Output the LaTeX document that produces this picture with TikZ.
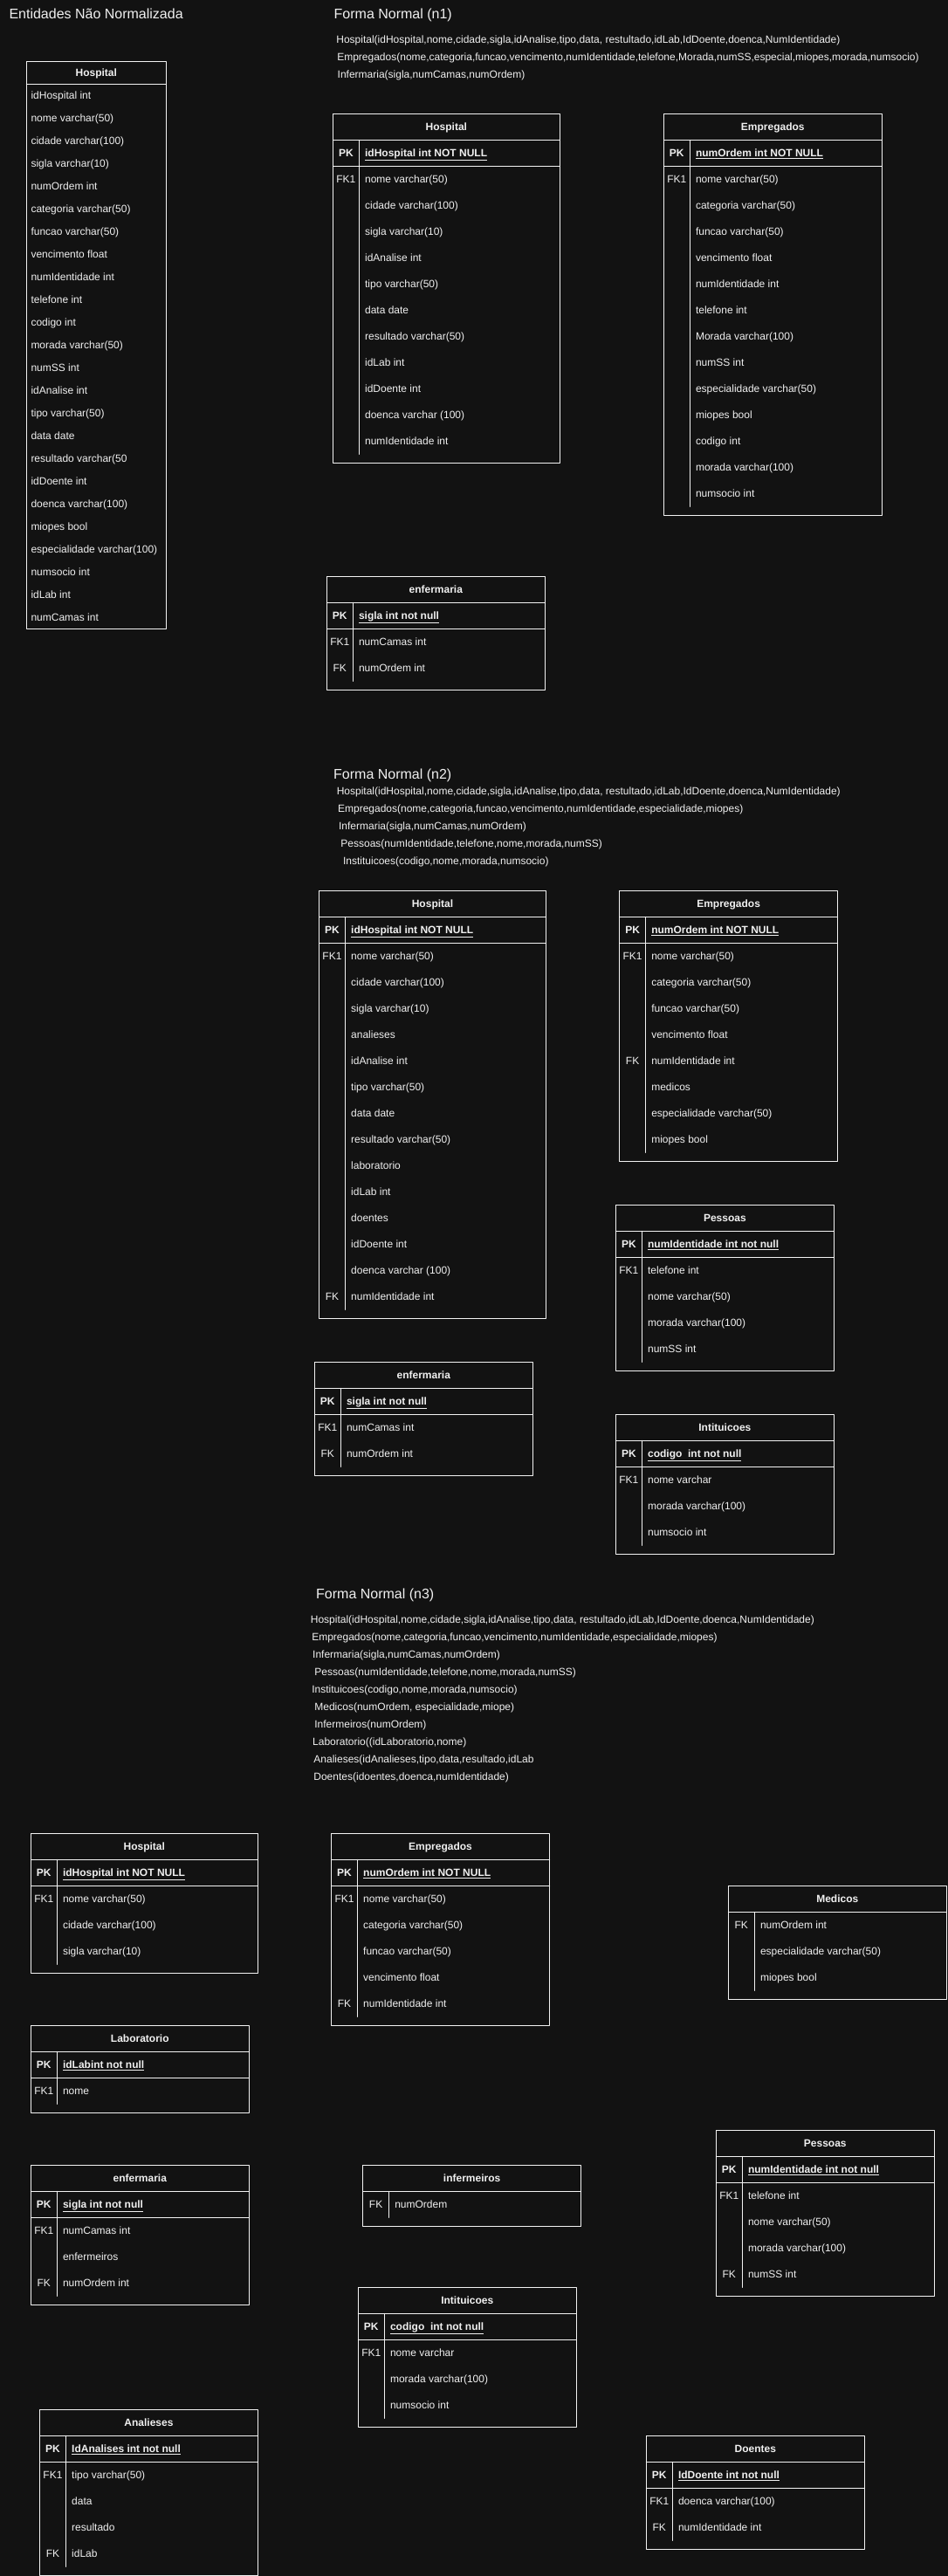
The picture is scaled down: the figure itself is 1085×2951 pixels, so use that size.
\documentclass[tikz,border=0pt]{standalone}
\usepackage{fontspec}
\setmainfont{Liberation Sans}
\definecolor{fundo}{HTML}{121212}
\definecolor{traco}{HTML}{F2F2F2}
\definecolor{letra}{HTML}{F0F0F0}

\begin{document}
\begin{tikzpicture}[x=1pt, y=-1pt, line cap=round, line join=round,
  linha/.style={traco, line width=1pt},
  texto/.style={text=letra, inner sep=0pt, font=\fontsize{12}{14}\selectfont},
  campo/.style={texto, anchor=base west},
  chave/.style={texto, anchor=base},
  pk/.style={chave, font=\fontsize{12}{14}\selectfont\bfseries},
  pkcampo/.style={campo, font=\fontsize{12}{14}\selectfont\bfseries},
  titulo/.style={chave, font=\fontsize{12}{14}\selectfont\bfseries},
  secao/.style={texto, anchor=base west, font=\fontsize{16}{19}\selectfont},
  esquema/.style={campo}]
  % Fundo
  \useasboundingbox (0,0) rectangle (1085,2951);
  \fill[fundo] (-10,-10) rectangle (1095,2961);

  % Tabela: nome, x, y, largura, titulo, chave PK (ou vazio), linhas chave/campo
  \def\tabela#1#2#3#4#5#6#7{%
    \ifx\relax#6\relax\def\pkh{0}\else\def\pkh{30}\fi
    \foreach \chv/\cpo [count=\i from 0] in {#7} {
      \ifx\chv\empty\else
        \node[chave] (#1-k\i) at ({#2+15},{#3+30+\pkh+30*\i+19.3}) {\chv};
      \fi
      \node[campo] (#1-r\i) at ({#2+36.5},{#3+30+\pkh+30*\i+19.3}) {\cpo};
      \xdef\nlin{\i}
    }
    \pgfmathsetmacro\fimlin{#3+30+\pkh+30*(\nlin+1)}
    \draw[linha] (#2,#3) rectangle ({#2+#4},{\fimlin+10});
    \draw[linha] (#2,{#3+30}) -- ++(#4,0);
    \node[titulo] (#1-tit) at ({#2+#4/2},{#3+19.3}) {#5};
    \ifx\relax#6\relax\else
      \node[pk] (#1-pkl) at ({#2+15},{#3+49.3}) {PK};
      \node[pkcampo] (#1-pk) at ({#2+36.5},{#3+49.3}) {\underline{#6}};
      \draw[linha] (#2,{#3+60}) -- ++(#4,0);
    \fi
    \draw[linha] ({#2+30},{#3+30}) -- ({#2+30},\fimlin);
  }

  % Entidades nao normalizadas
  \node[secao] (titNN) at (10.3,21.4) {Entidades Não Normalizada};
  \draw[linha] (30.3,70.3) rectangle (190.3,720.3);
  \draw[linha] (30.3,96.4) -- (190.3,96.4);
  \node[titulo] (hosp0-tit) at (110.3,87.6) {Hospital};
  \foreach \cpo [count=\i from 0] in {idHospital int, nome varchar(50), cidade varchar(100),
      sigla varchar(10), numOrdem int, categoria varchar(50), funcao varchar(50),
      vencimento float, numIdentidade int, telefone int, codigo int, morada varchar(50),
      numSS int, idAnalise int, tipo varchar(50), data date, resultado varchar(50,
      idDoente int, doenca varchar(100), miopes bool, especialidade varchar(100),
      numsocio int, idLab int, numCamas int}
    \node[campo] (hosp0-r\i) at (35.3,{96.4+17.3+26*\i}) {\cpo};

  % Forma normal (n1)
  \node[secao] (titN1) at (382.5,21.3) {Forma Normal (n1)};
  \node[esquema] (n1a) at (385.2,49.3) {Hospital(idHospital,nome,cidade,sigla,idAnalise,tipo,data, restultado,idLab,IdDoente,doenca,NumIdentidade)};
  \node[esquema] (n1b) at (386.1,69.3) {Empregados(nome,categoria,funcao,vencimento,numIdentidade,telefone,Morada,numSS,especial,miopes,morada,numsocio)};
  \node[esquema] (n1c) at (386.5,89.3) {Infermaria(sigla,numCamas,numOrdem)};

  \tabela{hospN1}{381.4}{130.3}{260}{Hospital}{idHospital int NOT NULL}{FK1/nome varchar(50), /cidade varchar(100), /sigla varchar(10), /idAnalise int, /tipo varchar(50), /data date, /resultado varchar(50), /idLab int, /idDoente int, /doenca varchar (100), /numIdentidade int}
  \tabela{empN1}{760.3}{130.3}{250}{Empregados}{numOrdem int NOT NULL}{FK1/nome varchar(50), /categoria varchar(50), /funcao varchar(50), /vencimento float, /numIdentidade int, /telefone int, /Morada varchar(100), /numSS int, /especialidade varchar(50), /miopes bool, /codigo int, /morada varchar(100), /numsocio int}
  \tabela{enfN1}{374.3}{660.3}{250}{enfermaria}{sigla int not null}{FK1/numCamas int, FK/numOrdem int}

  % Forma normal (n2)
  \node[secao] (titN2) at (382,892) {Forma Normal (n2)};
  \node[esquema] (n2a) at (385.6,910) {Hospital(idHospital,nome,cidade,sigla,idAnalise,tipo,data, restultado,idLab,IdDoente,doenca,NumIdentidade)};
  \node[esquema] (n2b) at (386.9,930) {Empregados(nome,categoria,funcao,vencimento,numIdentidade,especialidade,miopes)};
  \node[esquema] (n2c) at (387.9,950) {Infermaria(sigla,numCamas,numOrdem)};
  \node[esquema] (n2d) at (390.2,970) {Pessoas(numIdentidade,telefone,nome,morada,numSS)};
  \node[esquema] (n2e) at (392.9,990) {Instituicoes(codigo,nome,morada,numsocio)};

  \tabela{hospN2}{365.5}{1020.3}{260}{Hospital}{idHospital int NOT NULL}{FK1/nome varchar(50), /cidade varchar(100), /sigla varchar(10), /analieses, /idAnalise int, /tipo varchar(50), /data date, /resultado varchar(50), /laboratorio, /idLab int, /doentes, /idDoente int, /doenca varchar (100), FK/numIdentidade int}
  \tabela{empN2}{709.6}{1020.3}{250}{Empregados}{numOrdem int NOT NULL}{FK1/nome varchar(50), /categoria varchar(50), /funcao varchar(50), /vencimento float, FK/numIdentidade int, /medicos, /especialidade varchar(50), /miopes bool}
  \tabela{pesN2}{705.4}{1380.3}{250}{Pessoas}{numIdentidade int not null}{FK1/telefone int, /nome varchar(50), /morada varchar(100), /numSS int}
  \tabela{enfN2}{360.3}{1560.3}{250}{enfermaria}{sigla int not null}{FK1/numCamas int, FK/numOrdem int}
  \tabela{instN2}{705.4}{1620.3}{250}{Intituicoes}{codigo\ \ int not null}{FK1/nome varchar, /morada varchar(100), /numsocio int}

  % Forma normal (n3)
  \node[secao] (titN3) at (362,1831.3) {Forma Normal (n3)};
  \node[esquema] (n3a) at (355.7,1859.3) {Hospital(idHospital,nome,cidade,sigla,idAnalise,tipo,data, restultado,idLab,IdDoente,doenca,NumIdentidade)};
  \node[esquema] (n3b) at (357.1,1879.3) {Empregados(nome,categoria,funcao,vencimento,numIdentidade,especialidade,miopes)};
  \node[esquema] (n3c) at (358,1899.3) {Infermaria(sigla,numCamas,numOrdem)};
  \node[esquema] (n3d) at (360.2,1919.3) {Pessoas(numIdentidade,telefone,nome,morada,numSS)};
  \node[esquema] (n3e) at (357.1,1939.3) {Instituicoes(codigo,nome,morada,numsocio)};
  \node[esquema] (n3f) at (360.2,1959.3) {Medicos(numOrdem, especialidade,miope)};
  \node[esquema] (n3g) at (360.2,1979.3) {Infermeiros(numOrdem)};
  \node[esquema] (n3h) at (358,1999.3) {Laboratorio((idLaboratorio,nome)};
  \node[esquema] (n3i) at (359.2,2019.3) {Analieses(idAnalieses,tipo,data,resultado,idLab};
  \node[esquema] (n3j) at (359.2,2039.3) {Doentes(idoentes,doenca,numIdentidade)};

  \tabela{hospN3}{35.3}{2100.3}{260}{Hospital}{idHospital int NOT NULL}{FK1/nome varchar(50), /cidade varchar(100), /sigla varchar(10)}
  \tabela{empN3}{379.5}{2100.3}{250}{Empregados}{numOrdem int NOT NULL}{FK1/nome varchar(50), /categoria varchar(50), /funcao varchar(50), /vencimento float, FK/numIdentidade int}
  \tabela{medN3}{834.3}{2160.3}{250}{Medicos}{}{FK/numOrdem int, /especialidade varchar(50), /miopes bool}
  \tabela{labN3}{35.3}{2320.3}{250}{Laboratorio}{idLabint not null}{FK1/nome}
  \tabela{pesN3}{820.3}{2440.3}{250}{Pessoas}{numIdentidade int not null}{FK1/telefone int, /nome varchar(50), /morada varchar(100), FK/numSS int}
  \tabela{enfN3}{35.3}{2480.3}{250}{enfermaria}{sigla int not null}{FK1/numCamas int, /enfermeiros, FK/numOrdem int}
  \tabela{infN3}{415.6}{2480.3}{250}{infermeiros}{}{FK/numOrdem}
  \tabela{instN3}{410.3}{2620.3}{250}{Intituicoes}{codigo\ \ int not null}{FK1/nome varchar, /morada varchar(100), /numsocio int}
  \tabela{anaN3}{45.5}{2760.3}{250}{Analieses}{IdAnalises int not null}{FK1/tipo varchar(50), /data, /resultado, FK/idLab}
  \tabela{doeN3}{740.3}{2790.3}{250}{Doentes}{IdDoente int not null}{FK1/doenca varchar(100), FK/numIdentidade int}
\end{tikzpicture}
\end{document}
